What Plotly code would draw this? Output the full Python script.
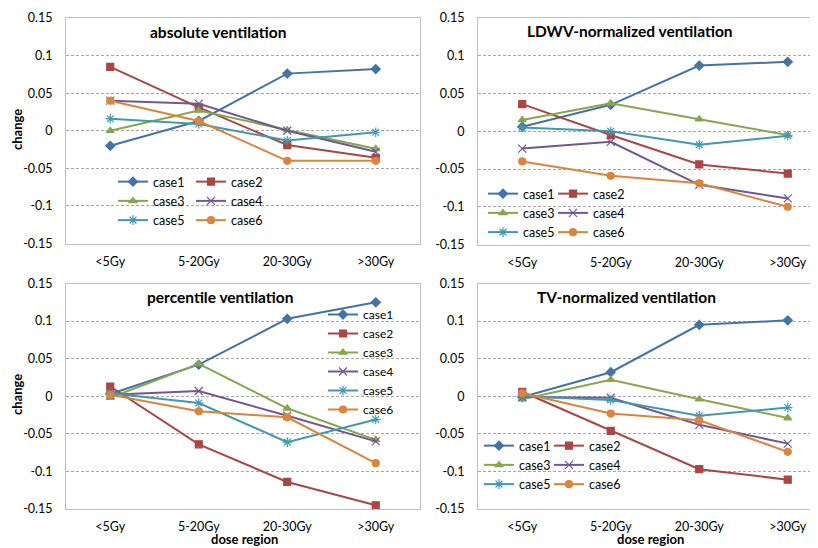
import plotly.graph_objects as go

categories = ["<5Gy", "5-20Gy", "20-30Gy", ">30Gy"]
case_names = ["case1", "case2", "case3", "case4", "case5", "case6"]

# panel values: each list = [<5Gy, 5-20Gy, 20-30Gy, >30Gy]
absolute = [
    [-0.020, 0.013, 0.076, 0.082],
    [0.085, 0.031, -0.019, -0.036],
    [0.000, 0.027, 0.001, -0.024],
    [0.040, 0.036, 0.000, -0.028],
    [0.016, 0.009, -0.013, -0.002],
    [0.040, 0.013, -0.040, -0.040],
]
ldwv = [
    [0.006, 0.035, 0.087, 0.092],
    [0.036, -0.005, -0.044, -0.056],
    [0.015, 0.037, 0.016, -0.005],
    [-0.023, -0.014, -0.071, -0.089],
    [0.005, 0.000, -0.018, -0.006],
    [-0.040, -0.059, -0.069, -0.100],
]
percentile = [
    [0.003, 0.042, 0.103, 0.125],
    [0.013, -0.064, -0.114, -0.145],
    [-0.002, 0.043, -0.016, -0.058],
    [0.002, 0.007, -0.026, -0.060],
    [0.004, -0.009, -0.061, -0.031],
    [0.002, -0.020, -0.028, -0.089],
]
tvnorm = [
    [-0.001, 0.032, 0.095, 0.101],
    [0.006, -0.046, -0.097, -0.111],
    [-0.004, 0.022, -0.004, -0.029],
    [-0.001, -0.002, -0.038, -0.063],
    [0.000, -0.005, -0.026, -0.015],
    [0.004, -0.023, -0.032, -0.074],
]
panel_titles = ["absolute ventilation", "LDWV-normalized ventilation",
                "percentile ventilation", "TV-normalized ventilation"]
y_tickvals = [0.15, 0.1, 0.05, 0, -0.05, -0.1, -0.15]
y_ticktext = ["0.15", "0.1", "0.05", "0", "-0.05", "-0.1", "-0.15"]

colors = ["#4572A7", "#AA4643", "#89A54E", "#71588F", "#4198AF", "#DB843D"]
symbols = ["diamond", "square", "triangle-up", "x-thin-open", "asterisk-open", "circle"]
msizes = [7, 7, 7, 8, 8, 7]

# the page body has an 8px margin; lay out in screen pixels and convert
OFF = 8
W, H = 810, 540
FONT = "Lato"

def px_x(v):
    return (v - OFF) / W

def px_y(v):
    return 1 - (v - OFF) / H

# plot-area geometry in screen pixels (left, right, top, bottom)
areas = [
    (66, 420, 18, 243.5),
    (478, 818, 18, 244.5),
    (66, 420, 283.5, 509),
    (478, 818, 283.5, 509),
]
cat_w = 88.5

panels = [absolute, ldwv, percentile, tvnorm]
legend_map = [
    ["legend", "legend2", "legend", "legend2", "legend", "legend2"],
    ["legend3", "legend4", "legend3", "legend4", "legend3", "legend4"],
    ["legend5"] * 6,
    ["legend6", "legend7", "legend6", "legend7", "legend6", "legend7"],
]

fig = go.Figure()
layout = dict(width=W, height=H, margin=dict(l=0, r=0, t=0, b=0, autoexpand=False),
              paper_bgcolor="white", plot_bgcolor="white", template="none",
              font=dict(family=FONT, size=12, color="#000000"))

for p, data in enumerate(panels):
    idx = "" if p == 0 else str(p + 1)
    xa, ya = "x" + idx, "y" + idx
    for i, name in enumerate(case_names):
        fig.add_trace(go.Scatter(
            x=categories, y=data[i], mode="lines+markers", name=name,
            xaxis=xa, yaxis=ya,
            line=dict(color=colors[i], width=2),
            marker=dict(symbol=symbols[i], size=msizes[i], color=colors[i],
                        line=dict(color=colors[i], width=1.2)),
            legend=legend_map[p][i], showlegend=True,
        ))
    l, r, t, b = areas[p]
    xmax = -0.5 + (r - l) / cat_w
    right_side = p in (1, 3)
    layout["xaxis" + idx] = dict(
        domain=[px_x(l), px_x(r)], anchor=ya, type="category",
        categoryorder="array", categoryarray=categories,
        range=[-0.5, xmax], showgrid=False, zeroline=False, automargin=False,
        showline=True, linecolor="#BFBFBF", linewidth=1, mirror=True,
        ticks="", ticklabelstandoff=6,
        tickfont=dict(family=FONT, size=12.5, color="#000000"),
        fixedrange=True,
    )
    layout["yaxis" + idx] = dict(
        domain=[px_y(b), px_y(t)], anchor=xa, range=[-0.15, 0.15],
        tickvals=y_tickvals, ticktext=y_ticktext, automargin=False,
        showgrid=True, gridcolor="#A6A6A6", gridwidth=1, griddash="3px,2px",
        zeroline=False, showline=True, linecolor="#BFBFBF", linewidth=1,
        mirror=not right_side, ticks="", ticklabelstandoff=10,
        tickfont=dict(family=FONT, size=12.5, color="#000000"),
        fixedrange=True,
    )

annotations = []
title_pos = [(218, 32), (630, 31), (219.5, 297), (626, 297)]
for p, (tx, ty) in enumerate(title_pos):
    annotations.append(dict(text="<b>" + panel_titles[p] + "</b>", x=px_x(tx), y=px_y(ty),
                            xref="paper", yref="paper", showarrow=False,
                            xanchor="center", yanchor="middle",
                            font=dict(family=FONT, size=15.5, color="#000000")))
for cy in (130, 395):
    annotations.append(dict(text="<b>change</b>", x=px_x(17), y=px_y(cy), xref="paper",
                            yref="paper", showarrow=False, textangle=-90,
                            xanchor="center", yanchor="middle",
                            font=dict(family=FONT, size=13, color="#000000")))
for cx in (244, 650):
    annotations.append(dict(text="<b>dose region</b>", x=px_x(cx), y=px_y(539), xref="paper",
                            yref="paper", showarrow=False,
                            xanchor="center", yanchor="middle",
                            font=dict(family=FONT, size=13, color="#000000")))
layout["annotations"] = annotations

def leg(xp, yp, size=12.5):
    return dict(x=px_x(xp), y=px_y(yp), xanchor="left", yanchor="top",
                orientation="v", bgcolor="rgba(0,0,0,0)", borderwidth=0,
                tracegroupgap=0, itemwidth=30,
                font=dict(family=FONT, size=size, color="#000000"))

layout["legend"] = leg(113, 167)
layout["legend2"] = leg(191, 167)
layout["legend3"] = leg(483, 179)
layout["legend4"] = leg(553, 179)
layout["legend5"] = leg(323, 300, 12)
layout["legend6"] = leg(479, 431)
layout["legend7"] = leg(549, 431)

fig.update_layout(**layout)
fig.write_html("out.html")
